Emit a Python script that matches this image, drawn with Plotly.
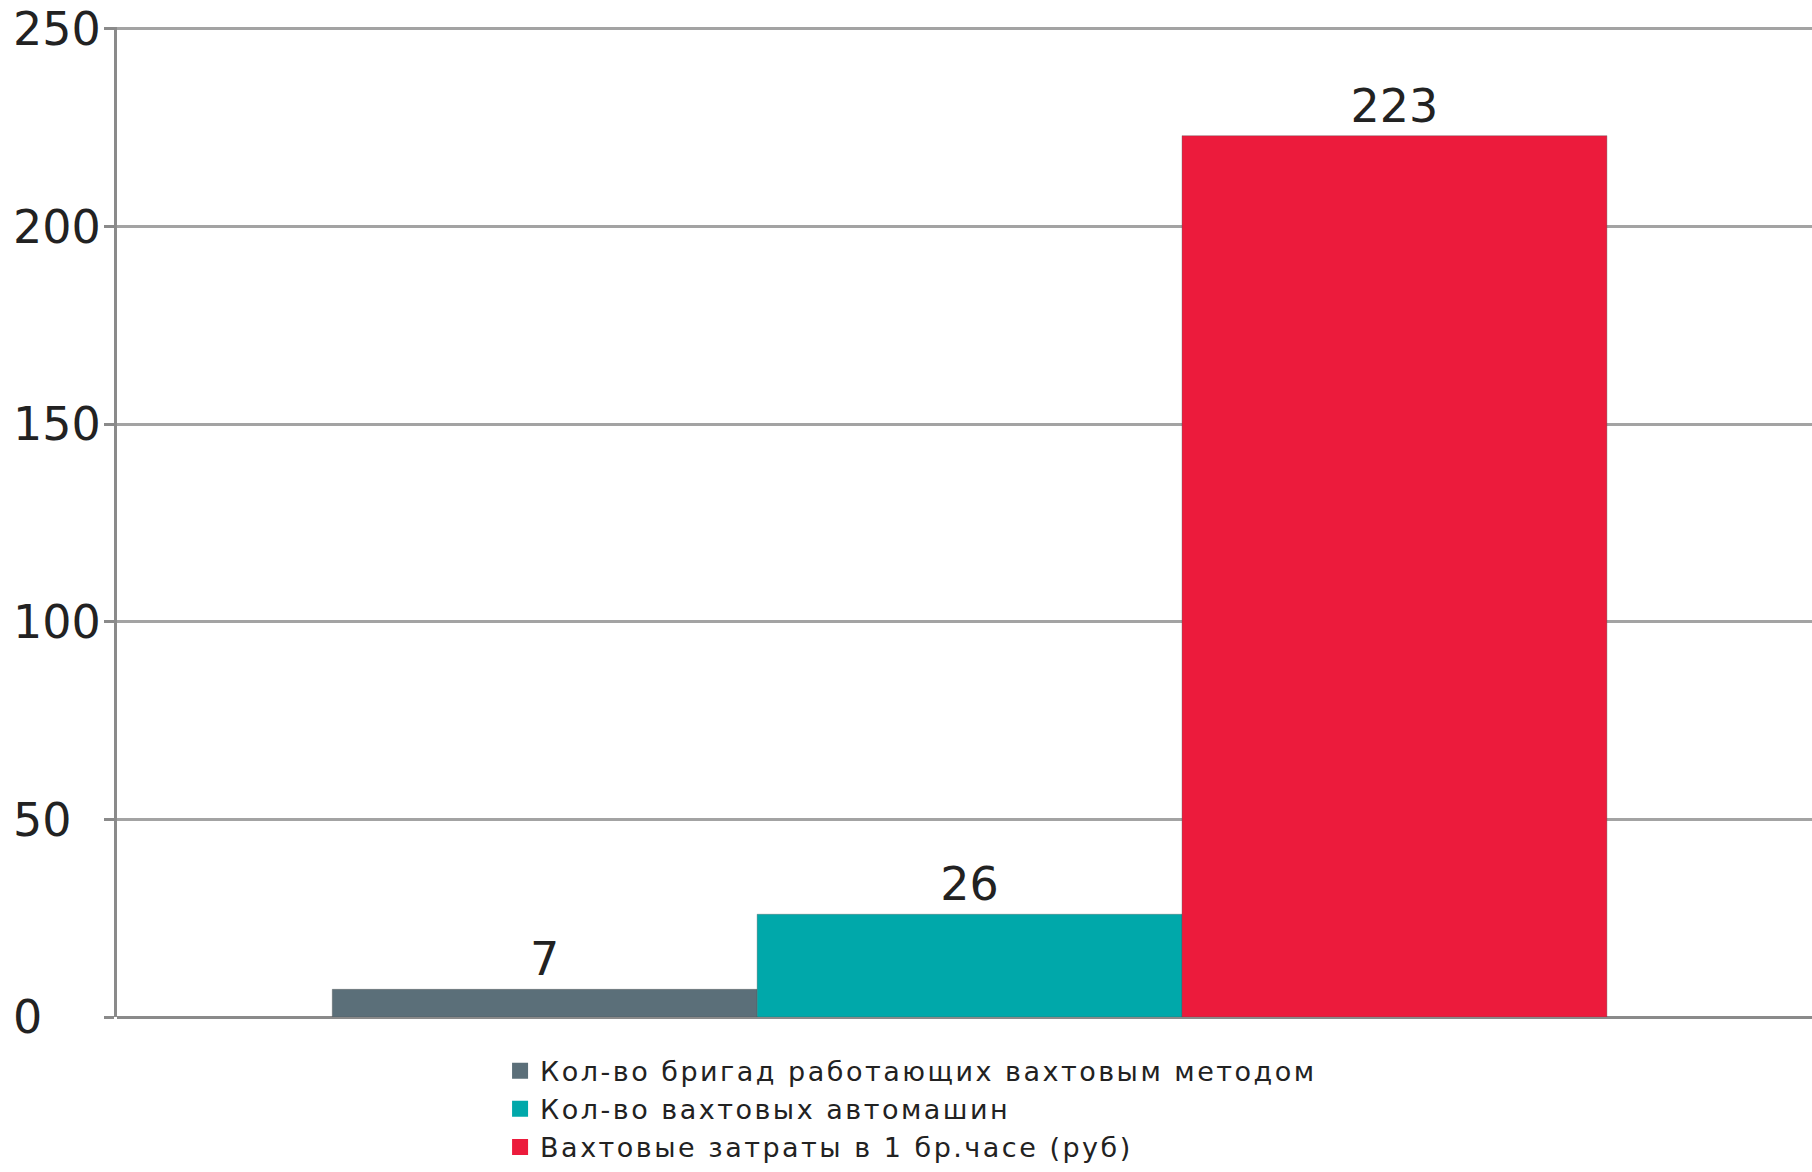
import plotly.graph_objects as go

category = [""]
series_names = [
    "Кол-во бригад работающих вахтовым методом",
    "Кол-во вахтовых автомашин",
    "Вахтовые затраты в 1 бр.часе (руб)",
]
series_values = [7, 26, 223]
series_colors = ["#5b6f79", "#00a8aa", "#ec1b3c"]
y_ticks = [0, 50, 100, 150, 200, 250]
y_tick_labels = ["0", "50", "100", "150", "200", "250"]

# left-align tick labels (reference draws them flush left): pad with
# non-breaking spaces (2 spaces == 1 digit width in DejaVu Sans)
max_len = max(len(t) for t in y_tick_labels)
padded_labels = [t + "\u00a0" * (2 * (max_len - len(t))) for t in y_tick_labels]

fig = go.Figure()
for name, val, col in zip(series_names, series_values, series_colors):
    fig.add_trace(go.Bar(
        x=category, y=[val], name=name, showlegend=False,
        marker=dict(color=col, line=dict(color="rgba(80,80,80,0.35)", width=1)),
        text=[str(val)], textposition="outside", cliponaxis=False,
        textfont=dict(family="DejaVu Sans", size=46, color="#222222"),
    ))
# legend entries (square swatches)
for name, col in zip(series_names, series_colors):
    fig.add_trace(go.Scatter(
        x=[None], y=[None], mode="markers",
        name='<span style="letter-spacing:2.5px">' + name + '</span>',
        marker=dict(symbol="square", size=16, color=col),
        showlegend=True, hoverinfo="skip",
    ))

fig.update_layout(
    width=1812, height=1172,
    margin=dict(l=117, r=0, t=27, b=145),
    paper_bgcolor="white", plot_bgcolor="white",
    barmode="group", bargap=0.248, bargroupgap=0,
    font=dict(family="DejaVu Sans", color="#222222"),
    showlegend=True,
    legend=dict(
        orientation="v", x=0.226, xanchor="left", y=-0.030, yanchor="top",
        font=dict(family="DejaVu Sans", size=27, color="#222222"),
        tracegroupgap=0, itemwidth=30, bgcolor="rgba(0,0,0,0)",
    ),
    xaxis=dict(range=[-0.503, 0.497], showticklabels=False, showgrid=False,
               showline=False, zeroline=False),
    yaxis=dict(
        range=[0, 250.5], tickvals=y_ticks, ticktext=padded_labels,
        showgrid=True, gridcolor="#a3a3a3", gridwidth=2.5,
        showline=True, linecolor="#8a8a8a", linewidth=3,
        ticks="outside", ticklen=10, tickcolor="#8a8a8a", tickwidth=3,
        ticklabelstandoff=-6,
        zeroline=True, zerolinecolor="#8a8a8a", zerolinewidth=3,
        tickfont=dict(family="DejaVu Sans", size=46, color="#222222"),
    ),
)

fig.write_html("out.html", config={"displayModeBar": False},
               post_script="document.body.style.margin='0';")
